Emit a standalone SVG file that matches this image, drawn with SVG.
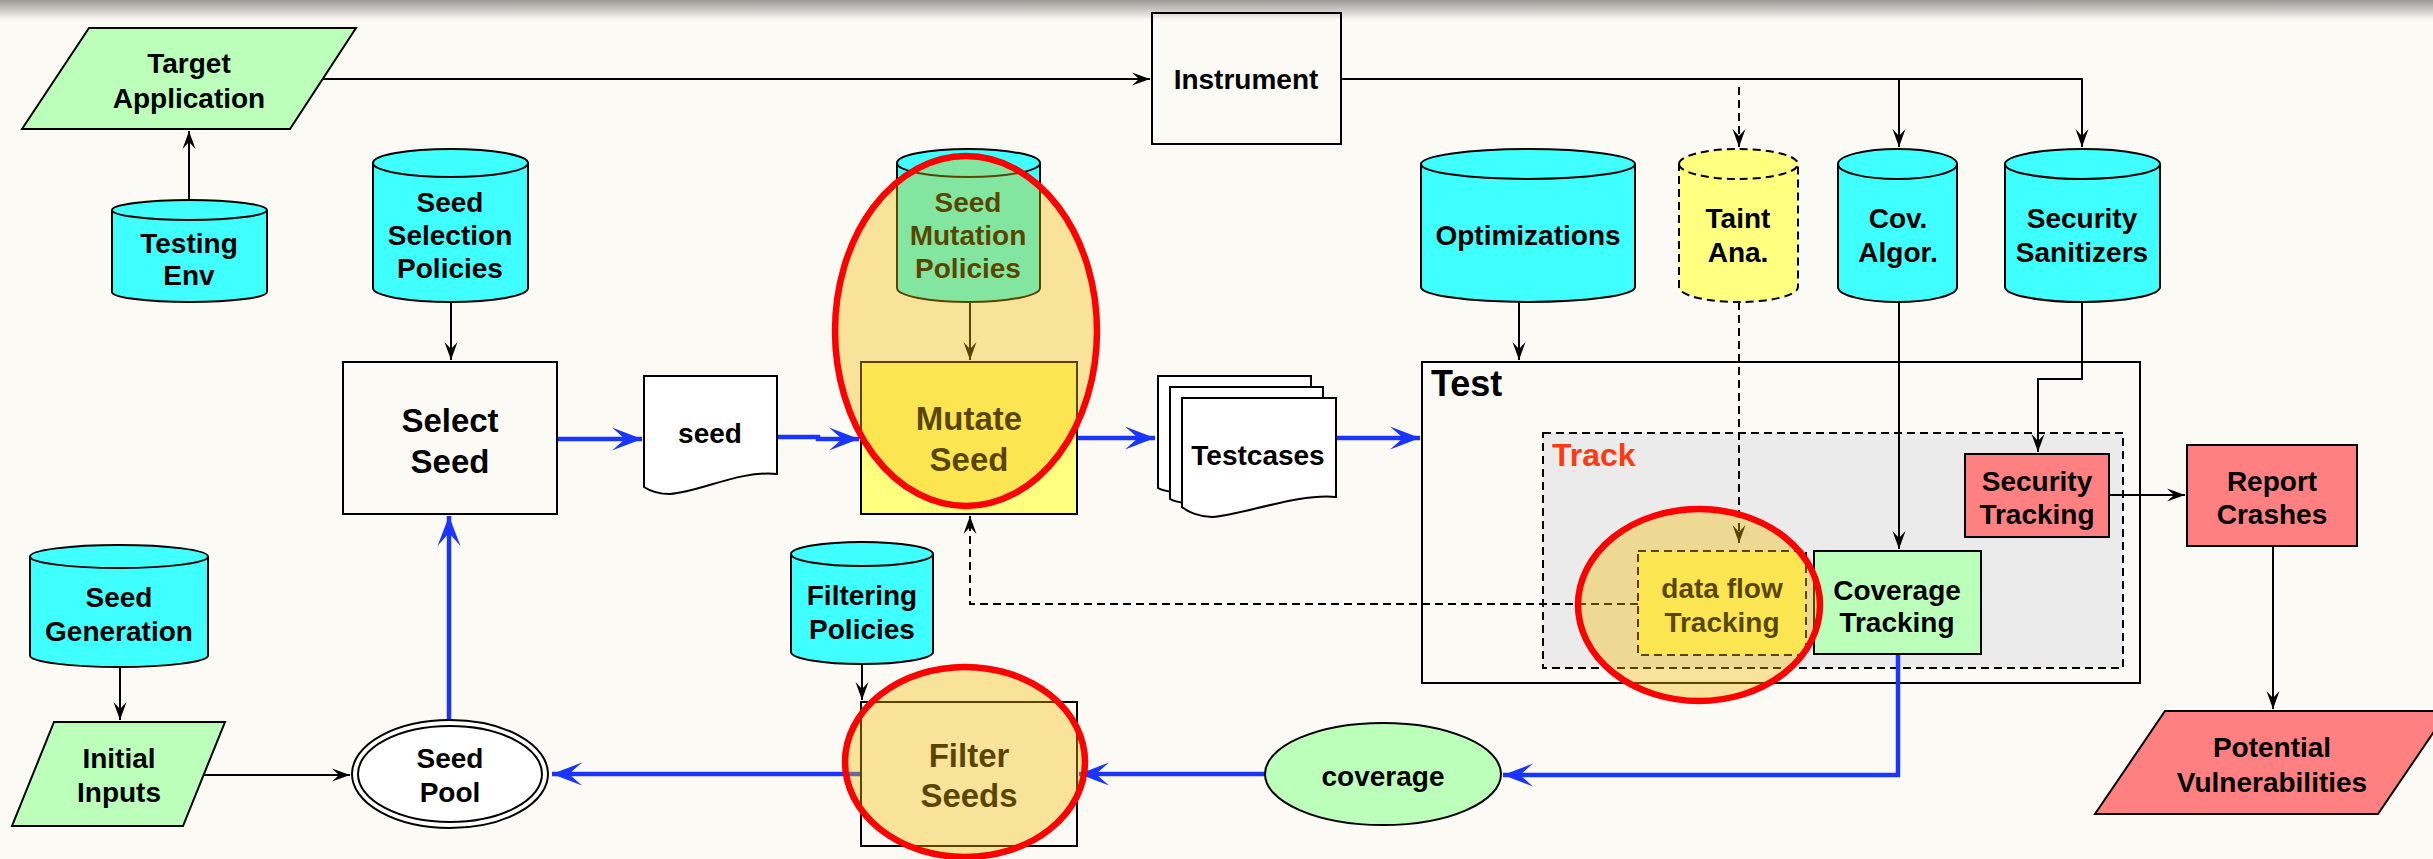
<svg xmlns="http://www.w3.org/2000/svg" width="2433" height="859" viewBox="0 0 2433 859">
<defs>
<linearGradient id="shade" x1="0" y1="0" x2="0" y2="1">
<stop offset="0" stop-color="#9a9894"/>
<stop offset="1" stop-color="#fcfaf5"/>
</linearGradient>
<marker id="ah" markerUnits="userSpaceOnUse" viewBox="-20 -8 22 16" markerWidth="22" markerHeight="16" refX="0" refY="0" orient="auto">
<path d="M0,0 L-18,-6.5 L-11,0 L-18,6.5 Z" fill="#000"/>
</marker>
<marker id="ahb" markerUnits="userSpaceOnUse" viewBox="-32 -13 34 26" markerWidth="34" markerHeight="26" refX="0" refY="0" orient="auto">
<path d="M0,0 L-30,-11.5 L-17,0 L-30,11.5 Z" fill="#1a35ff"/>
</marker>
<style>
text{font-family:"Liberation Sans",Arial,Helvetica,sans-serif;font-weight:bold;font-size:28px;fill:#000;text-anchor:middle}
.big{font-size:33px}
.shape{stroke:#000;stroke-width:2}
.cyan{fill:#40ffff}
.green{fill:#bbffbb}
.salmon{fill:#ff8080}
.yel{fill:#ffff80}
.white{fill:#fff}
.clear{fill:none}
.dash{stroke-dasharray:8 5}
.ln{fill:none;stroke:#000;stroke-width:2}
.blue{fill:none;stroke:#1a35ff;stroke-width:4.5}
.hl{fill:rgb(243,186,0);fill-opacity:0.37;stroke:#f00;stroke-width:6.5}
</style>
</defs>
<rect x="0" y="0" width="2433" height="859" fill="#fcfaf5"/>
<rect x="0" y="0" width="2433" height="20" fill="url(#shade)"/>

<g id="test-container">
<rect class="shape clear" x="1422" y="362" width="718" height="321"/>
<text x="1431" y="396" style="font-size:36px;text-anchor:start">Test</text>
</g>
<g id="track-container">
<rect class="shape dash" x="1543" y="433" width="580" height="235" fill="#ebebeb"/>
<text x="1552" y="466" style="font-size:32px;text-anchor:start;fill:#ff3a12">Track</text>
</g>

<g id="connectors">
<path class="ln" d="M189,200 V131" marker-end="url(#ah)"/>
<path class="ln" d="M323,79 H1150" marker-end="url(#ah)"/>
<path class="ln" d="M1341,79 H2082 V147" marker-end="url(#ah)"/>
<path class="ln" d="M1899,79 V147" marker-end="url(#ah)"/>
<path class="ln dash" d="M1739,87 V147" marker-end="url(#ah)"/>
<path class="ln" d="M451,302 V360" marker-end="url(#ah)"/>
<path class="ln" d="M970,302 V360" marker-end="url(#ah)"/>
<path class="ln" d="M120,667 V720" marker-end="url(#ah)"/>
<path class="ln" d="M862,664 V700" marker-end="url(#ah)"/>
<path class="ln" d="M204,775 H350" marker-end="url(#ah)"/>
<path class="ln" d="M1519,302 V360" marker-end="url(#ah)"/>
<path class="ln dash" d="M1739,302 V543" marker-end="url(#ah)"/>
<path class="ln" d="M1899,302 V549" marker-end="url(#ah)"/>
<path class="ln" d="M2082,302 V379 H2038 V452" marker-end="url(#ah)"/>
<path class="ln" d="M2109,495 H2185" marker-end="url(#ah)"/>
<path class="ln" d="M2273,546 V709" marker-end="url(#ah)"/>
<path class="ln dash" d="M1638,604 H970 V516" marker-end="url(#ah)"/>
<path class="blue" d="M557,439 H642" marker-end="url(#ahb)"/>
<path class="blue" d="M777,437 H818 V439 H859" marker-end="url(#ahb)"/>
<path class="blue" d="M1077,438 H1155" marker-end="url(#ahb)"/>
<path class="blue" d="M1312,438 H1420" marker-end="url(#ahb)"/>
<path class="blue" d="M449,720 V516" marker-end="url(#ahb)"/>
<path class="blue" d="M861,774 H552" marker-end="url(#ahb)"/>
<path class="blue" d="M1265,774 H1079" marker-end="url(#ahb)"/>
<path class="blue" d="M1898,655 V775 H1503" marker-end="url(#ahb)"/>
</g>

<g id="target-application">
<path class="shape green" d="M89,28 H356 L290,129 H22 Z"/>
<text x="189" y="73">Target</text>
<text x="189" y="108">Application</text>
</g>
<g id="testing-env">
<path class="shape cyan" d="M112,210 A77.5,10 0 0 1 267,210 V292 A77.5,10 0 0 1 112,292 Z"/>
<path class="ln" d="M112,210 A77.5,10 0 0 0 267,210"/>
<text x="189" y="253">Testing</text>
<text x="189" y="285">Env</text>
</g>
<g id="seed-selection-policies">
<path class="shape cyan" d="M373,163 A77.5,14 0 0 1 528,163 V288 A77.5,14 0 0 1 373,288 Z"/>
<path class="ln" d="M373,163 A77.5,14 0 0 0 528,163"/>
<text x="450" y="212">Seed</text>
<text x="450" y="245">Selection</text>
<text x="450" y="278">Policies</text>
</g>
<g id="seed-mutation-policies">
<path class="shape cyan" d="M897,163 A71.5,14 0 0 1 1040,163 V288 A71.5,14 0 0 1 897,288 Z"/>
<path class="ln" d="M897,163 A71.5,14 0 0 0 1040,163"/>
<text x="968" y="212">Seed</text>
<text x="968" y="245">Mutation</text>
<text x="968" y="278">Policies</text>
</g>
<g id="instrument">
<rect class="shape clear" x="1152" y="13" width="189" height="131"/>
<text x="1246" y="89">Instrument</text>
</g>
<g id="optimizations">
<path class="shape cyan" d="M1421,164 A107,15 0 0 1 1635,164 V287 A107,15 0 0 1 1421,287 Z"/>
<path class="ln" d="M1421,164 A107,15 0 0 0 1635,164"/>
<text x="1528" y="245">Optimizations</text>
</g>
<g id="taint-analysis">
<path class="shape yel dash" d="M1679,164 A59.5,15 0 0 1 1798,164 V287 A59.5,15 0 0 1 1679,287 Z"/>
<path class="ln dash" d="M1679,164 A59.5,15 0 0 0 1798,164"/>
<text x="1738" y="228">Taint</text>
<text x="1738" y="262">Ana.</text>
</g>
<g id="cov-algor">
<path class="shape cyan" d="M1838,164 A59.5,15 0 0 1 1957,164 V287 A59.5,15 0 0 1 1838,287 Z"/>
<path class="ln" d="M1838,164 A59.5,15 0 0 0 1957,164"/>
<text x="1898" y="228">Cov.</text>
<text x="1898" y="262">Algor.</text>
</g>
<g id="security-sanitizers">
<path class="shape cyan" d="M2005,164 A77.5,15 0 0 1 2160,164 V287 A77.5,15 0 0 1 2005,287 Z"/>
<path class="ln" d="M2005,164 A77.5,15 0 0 0 2160,164"/>
<text x="2082" y="228">Security</text>
<text x="2082" y="262">Sanitizers</text>
</g>
<g id="select-seed">
<rect class="shape clear" x="343" y="362" width="214" height="152"/>
<text class="big" x="450" y="432">Select</text>
<text class="big" x="450" y="473">Seed</text>
</g>
<g id="seed-doc">
<path class="shape white" d="M644,376 H777 V474 C740,470 700,492 670,494 C658,494 650,491 644,487 Z"/>
<text x="710" y="443">seed</text>
</g>
<g id="mutate-seed">
<rect class="shape yel" x="861" y="362" width="216" height="152"/>
<text class="big" x="969" y="430">Mutate</text>
<text class="big" x="969" y="471">Seed</text>
</g>
<g id="testcases">
<path class="shape white" d="M1158,376 H1311 V475 C1274,471 1234,493 1204,495 C1192,495 1164,492 1158,488 Z"/>
<path class="shape white" d="M1170,387 H1323 V486 C1286,482 1246,504 1216,506 C1204,506 1176,503 1170,499 Z"/>
<path class="shape white" d="M1182,398 H1336 V497 C1299,493 1242,515 1212,517 C1200,517 1188,512 1182,507 Z"/>
<text x="1258" y="465">Testcases</text>
</g>
<g id="security-tracking">
<rect class="shape salmon" x="1965" y="454" width="144" height="83"/>
<text x="2037" y="491">Security</text>
<text x="2037" y="524">Tracking</text>
</g>
<g id="report-crashes">
<rect class="shape salmon" x="2187" y="445" width="170" height="101"/>
<text x="2272" y="491">Report</text>
<text x="2272" y="524">Crashes</text>
</g>
<g id="data-flow-tracking">
<rect class="shape yel dash" x="1638" y="551" width="168" height="104"/>
<text x="1722" y="598">data flow</text>
<text x="1722" y="632">Tracking</text>
</g>
<g id="coverage-tracking">
<rect class="shape green" x="1814" y="551" width="167" height="103"/>
<text x="1897" y="600">Coverage</text>
<text x="1897" y="632">Tracking</text>
</g>
<g id="potential-vulnerabilities">
<path class="shape salmon" d="M2165,711 H2448 L2378,814 H2095 Z"/>
<text x="2272" y="757">Potential</text>
<text x="2272" y="792">Vulnerabilities</text>
</g>
<g id="seed-generation">
<path class="shape cyan" d="M30,556.5 A89,11.5 0 0 1 208,556.5 V655.5 A89,11.5 0 0 1 30,655.5 Z"/>
<path class="ln" d="M30,556.5 A89,11.5 0 0 0 208,556.5"/>
<text x="119" y="607">Seed</text>
<text x="119" y="641">Generation</text>
</g>
<g id="filtering-policies">
<path class="shape cyan" d="M791,554 A71,12 0 0 1 933,554 V652 A71,12 0 0 1 791,652 Z"/>
<path class="ln" d="M791,554 A71,12 0 0 0 933,554"/>
<text x="862" y="605">Filtering</text>
<text x="862" y="639">Policies</text>
</g>
<g id="initial-inputs">
<path class="shape green" d="M54,722 H225 L183,826 H12 Z"/>
<text x="119" y="768">Initial</text>
<text x="119" y="802">Inputs</text>
</g>
<g id="seed-pool">
<ellipse class="shape white" cx="450" cy="774" rx="98" ry="54"/>
<ellipse class="shape clear" cx="450" cy="774" rx="92" ry="48"/>
<text x="450" y="768">Seed</text>
<text x="450" y="802">Pool</text>
</g>
<g id="filter-seeds">
<rect class="shape clear" x="861" y="702" width="216" height="144"/>
<text class="big" x="969" y="767">Filter</text>
<text class="big" x="969" y="807">Seeds</text>
</g>
<g id="coverage">
<ellipse class="shape green" cx="1383" cy="774" rx="118" ry="51"/>
<text x="1383" y="786">coverage</text>
</g>

<g id="highlights">
<ellipse class="hl" cx="966" cy="331" rx="131" ry="175"/>
<ellipse class="hl" cx="965" cy="762" rx="120" ry="95"/>
<ellipse class="hl" cx="1699" cy="605" rx="121" ry="96"/>
</g>
</svg>
